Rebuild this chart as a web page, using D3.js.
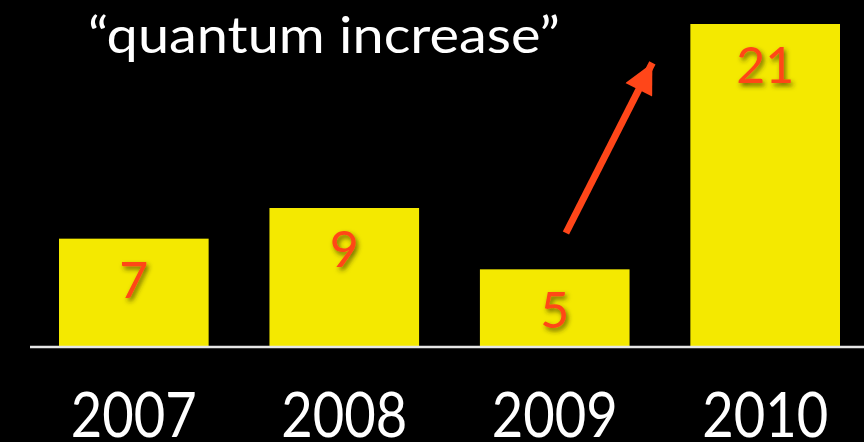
<!DOCTYPE html>
<html>
<head>
<meta charset="utf-8">
<script src="https://cdn.jsdelivr.net/npm/d3@7"></script>
<style>
  html, body { margin: 0; padding: 0; background: #000; }
  svg { display: block; }
</style>
</head>
<body>
<div id="chart"></div>
<script>
var years = ['2007', '2008', '2009', '2010'];
var counts = [7, 9, 5, 21];
var title = '\u201Cquantum increase\u201D';

var W = 864, H = 442;
var font = '"Gill Sans", "Gill Sans MT", Lato, "Open Sans", sans-serif';

var svg = d3.select('#chart').append('svg')
	.attr('width', W)
	.attr('height', H);

svg.append('rect').attr('width', W).attr('height', H).attr('fill', '#000');

var defs = svg.append('defs');
var f = defs.append('filter').attr('id', 'shadow')
	.attr('x', '-30%').attr('y', '-30%').attr('width', '160%').attr('height', '160%');
f.append('feDropShadow')
	.attr('dx', 2).attr('dy', 3)
	.attr('stdDeviation', 2.5)
	.attr('flood-color', '#2e2600')
	.attr('flood-opacity', 0.7);

defs.append('marker').attr('id', 'head')
	.attr('markerUnits', 'userSpaceOnUse')
	.attr('viewBox', '0 0 10 10')
	.attr('refX', 10).attr('refY', 5)
	.attr('markerWidth', 32).attr('markerHeight', 30)
	.attr('orient', 'auto')
	.append('path')
	.attr('d', 'M0,0 L10,5 L0,10 Z')
	.attr('fill', '#ff4619');

var x = d3.scaleBand()
	.domain(years)
	.range([59, 840])
	.paddingInner(0.289)
	.paddingOuter(0);

var y = d3.scaleLinear()
	.domain([0, 21])
	.range([346, 24]);

// bars
svg.selectAll('rect.bar')
	.data(counts)
	.enter()
	.append('rect')
	.attr('class', 'bar')
	.attr('x', function(d, i){ return x(years[i]); })
	.attr('y', function(d){ return y(d); })
	.attr('width', x.bandwidth())
	.attr('height', function(d){ return y(0) - y(d); })
	.attr('fill', '#f4e900');

// baseline
svg.append('line')
	.attr('x1', 30).attr('x2', W)
	.attr('y1', y(0) + 1).attr('y2', y(0) + 1)
	.attr('stroke', '#e6e6e6')
	.attr('stroke-width', 2.5);

// value labels
svg.selectAll('text.val')
	.data(counts)
	.enter()
	.append('text')
	.attr('class', 'val')
	.attr('x', function(d, i){ return x(years[i]) + x.bandwidth() / 2; })
	.attr('y', function(d){ return y(d) + 59; })
	.attr('text-anchor', 'middle')
	.attr('font-family', font)
	.attr('font-size', 50)
	.attr('fill', '#ff4619')
	.attr('filter', 'url(#shadow)')
	.text(function(d){ return d; });

// year axis
var axis = svg.append('g')
	.attr('transform', 'translate(0,' + y(0) + ')')
	.call(d3.axisBottom(x).tickSize(0).tickPadding(0));
axis.select('.domain').remove();
axis.selectAll('text')
	.attr('dy', null)
	.attr('y', 91)
	.attr('fill', '#fff')
	.attr('font-family', font)
	.attr('font-size', 62)
	.attr('textLength', 126)
	.attr('lengthAdjust', 'spacingAndGlyphs');

// annotation
svg.append('text')
	.attr('x', 88).attr('y', 53)
	.attr('fill', '#fff')
	.attr('font-family', font)
	.attr('font-size', 50)
	.attr('textLength', 472)
	.attr('lengthAdjust', 'spacingAndGlyphs')
	.text(title);

svg.append('line')
	.attr('x1', x('2009') + x.bandwidth() * 0.575)
	.attr('y1', y(7.37))
	.attr('x2', x('2010') - 38)
	.attr('y2', y(18.46))
	.attr('stroke', '#ff4619')
	.attr('stroke-width', 7)
	.attr('marker-end', 'url(#head)');
</script>
</body>
</html>
